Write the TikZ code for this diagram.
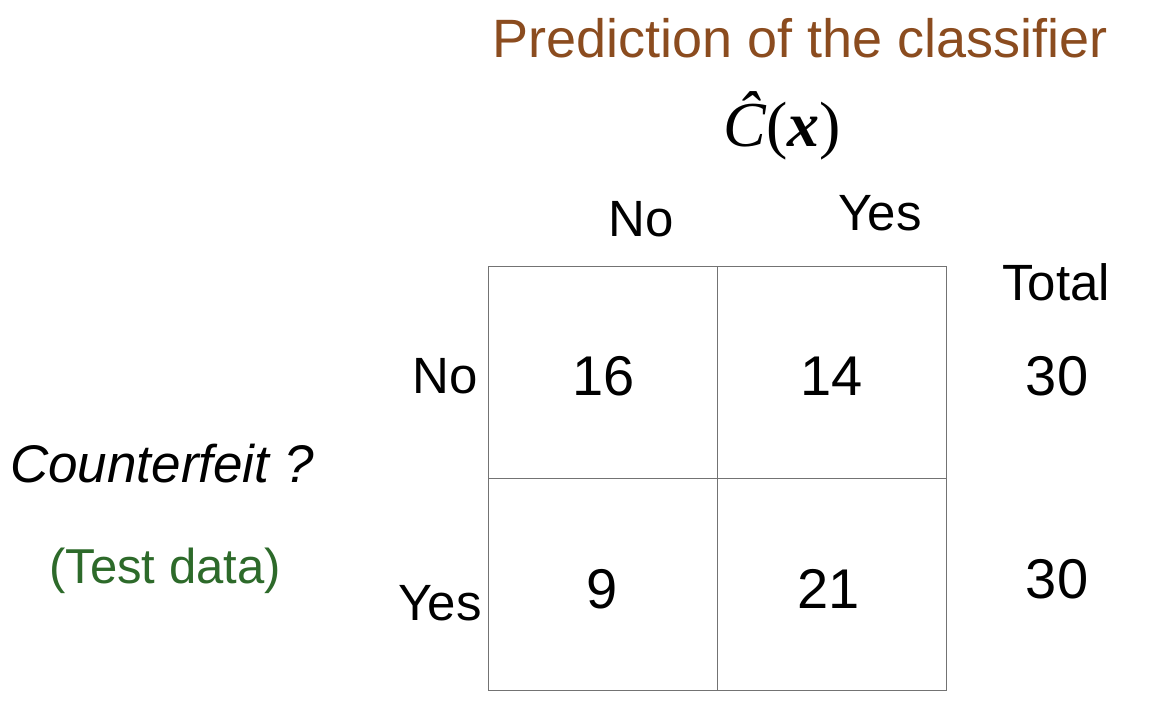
\documentclass[tikz,border=0pt]{standalone}
\usepackage{fontspec}
\setmainfont{Liberation Sans}
\newfontfamily\serifmath{Liberation Serif}
\definecolor{titlebrown}{RGB}{139,76,31}
\definecolor{testgreen}{RGB}{45,106,42}
\definecolor{gridgray}{RGB}{115,115,115}
\begin{document}
\begin{tikzpicture}[x=1pt,y=-1pt,
  lbl/.style={inner sep=0pt,anchor=base,font=\fontsize{51}{60}\selectfont},
  num/.style={inner sep=0pt,anchor=base,font=\fontsize{56}{64}\selectfont},
  gridline/.style={draw=gridgray,line width=1pt}]
\useasboundingbox (0,0) rectangle (1152,718);
\fill[white] (0,0) rectangle (1152,718);
% title
\node[inner sep=0pt,anchor=base,text=titlebrown,font=\fontsize{54}{60}\selectfont] (title) at (800,57) {Prediction of the classifier};
\node[inner sep=0pt,anchor=base,font=\fontsize{64}{70}\selectfont\serifmath] (chat) at (782,146) {\itshape\^{C}\upshape(\bfseries\itshape x\mdseries\upshape)};
% column headers
\node[lbl] (colno) at (641,236) {No};
\node[lbl] (colyes) at (880,230) {Yes};
\node[lbl] (total) at (1056,300) {Total};
% row headers
\node[lbl,anchor=base east] (rowno) at (478,393) {No};
\node[lbl,anchor=base east] (rowyes) at (482,620) {Yes};
% grid
\draw[gridline] (488,266) rectangle (946,690);
\draw[gridline] (717,266) -- (717,690);
\draw[gridline] (488,478) -- (946,478);
% cells
\node[num] (c11) at (604,395) {16};
\node[num] (c12) at (832,395) {14};
\node[num] (c21) at (602,608) {9};
\node[num] (c22) at (829,608) {21};
\node[num] (t1) at (1057,395) {30};
\node[num] (t2) at (1057,598) {30};
% left labels
\node[inner sep=0pt,anchor=base west,font=\fontsize{53}{60}\selectfont\itshape] (cf) at (10,482) {Counterfeit ?};
\node[inner sep=0pt,anchor=base,text=testgreen,font=\fontsize{49}{56}\selectfont] (test) at (165,583) {(Test data)};
\end{tikzpicture}
\end{document}
